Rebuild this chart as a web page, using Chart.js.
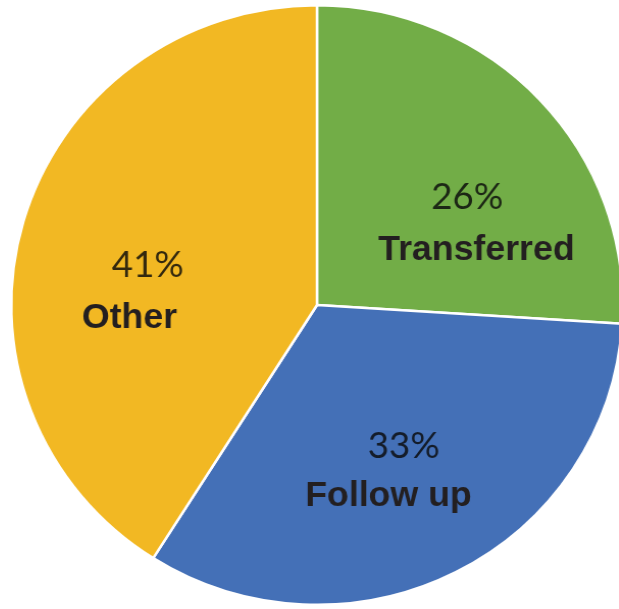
<!DOCTYPE html>
<html>
<head>
<meta charset="utf-8">
<script src="https://cdn.jsdelivr.net/npm/chart.js@4/dist/chart.umd.min.js"></script>
<style>
    html, body { margin: 0; padding: 0; background: #fff; }
    .wrap { width: 619px; height: 609px; position: relative; overflow: hidden; }
    /* the original is a little wider than tall */
    #pieChart { transform: scaleX(1.02); transform-origin: 317px 50%; }
</style>
</head>
<body>
<div class="wrap"><canvas id="pieChart"></canvas></div>
<script>
// Dữ liệu của biểu đồ
const categories = ['Transferred', 'Follow up', 'Other'];
const percentValues = [26, 33, 41];
const sliceColors = ['#72AD47', '#4470B7', '#F2B823'];

// Vẽ nhãn (phần trăm + tên) trong từng lát
const sliceLabels = {
    id: 'sliceLabels',
    afterDatasetsDraw(chart, args, opts) {
        const ctx = chart.ctx;
        const meta = chart.getDatasetMeta(0);
        meta.data.forEach((arc, i) => {
            const p = arc.tooltipPosition();
            const nudge = opts.nudge[i];
            ctx.save();
            ctx.textAlign = 'center';
            ctx.textBaseline = 'middle';
            ctx.fillStyle = 'rgba(10, 10, 10, 0.82)';
            ctx.font = '36px Lato';
            ctx.fillText(percentValues[i] + '%', p.x + nudge[0], p.y + nudge[1]);
            ctx.fillStyle = '#231F20';
            ctx.font = 'bold 35px "Liberation Sans", Arial';
            ctx.fillText(categories[i], p.x + nudge[2], p.y + nudge[3]);
            ctx.restore();
        });
    }
};

document.addEventListener('DOMContentLoaded', function() {
    const ctx = document.getElementById('pieChart').getContext('2d');
    new Chart(ctx, {
        type: 'pie',
        data: {
            labels: categories,
            datasets: [{
                data: percentValues,
                backgroundColor: sliceColors,
                borderColor: '#ffffff',
                borderWidth: 2.5
            }]
        },
        options: {
            responsive: true,
            maintainAspectRatio: false,
            animation: false,
            layout: {
                padding: { left: 16, right: 1, top: 4, bottom: 3 }
            },
            plugins: {
                legend: { display: false },
                tooltip: { enabled: false },
                sliceLabels: {
                    // [dx %, dy %, dx tên, dy tên] so với tâm lát
                    nudge: [[38, -5, 47, 48], [17, 8, 2, 58], [-22, 2, -40, 55]]
                }
            }
        },
        plugins: [sliceLabels]
    });
});
</script>
</body>
</html>
